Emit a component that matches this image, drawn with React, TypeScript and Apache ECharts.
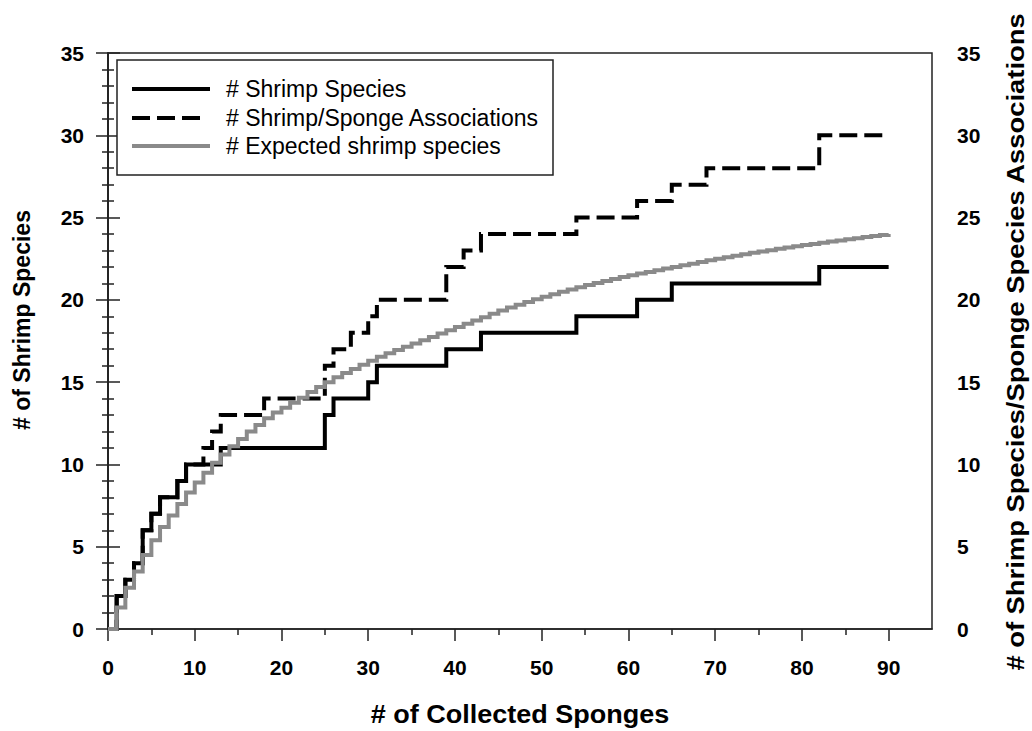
import React, { useEffect, useRef } from "react";
import * as echarts from "echarts";

// # Shrimp Species (step changes: collected sponges -> cumulative count)
const shrimpX = [0, 1, 2, 3, 4, 5, 6, 8, 9, 13, 25, 26, 30, 31, 39, 43, 54, 61, 65, 82, 90];
const shrimpY = [0, 2, 3, 4, 6, 7, 8, 9, 10, 11, 13, 14, 15, 16, 17, 18, 19, 20, 21, 22, 22];

// # Shrimp/Sponge Associations
const assocX = [0, 1, 2, 3, 4, 5, 6, 8, 9, 11, 12, 13, 18, 25, 26, 28, 30, 31, 39, 41, 43, 54, 61, 65, 69, 82, 90];
const assocY = [0, 2, 3, 4, 6, 7, 8, 9, 10, 11, 12, 13, 14, 16, 17, 18, 19, 20, 22, 23, 24, 25, 26, 27, 28, 30, 30];

// # Expected shrimp species, one value per sponge count 0..90
const expectedY = [
  0, 1.3, 2.5, 3.5, 4.5, 5.4, 6.2, 6.9, 7.6, 8.3,
  8.9, 9.5, 10.1, 10.6, 11.1, 11.55, 12.0, 12.4, 12.8, 13.15,
  13.45, 13.75, 14.05, 14.4, 14.7, 15.0, 15.3, 15.55, 15.8, 16.05,
  16.3, 16.55, 16.75, 16.95, 17.15, 17.35, 17.55, 17.75, 17.95, 18.15,
  18.35, 18.55, 18.75, 18.95, 19.15, 19.35, 19.53, 19.7, 19.87, 20.03,
  20.19, 20.34, 20.49, 20.63, 20.77, 20.9, 21.03, 21.15, 21.27, 21.39,
  21.5, 21.6, 21.7, 21.8, 21.9, 22.0, 22.1, 22.2, 22.3, 22.4,
  22.5, 22.59, 22.68, 22.77, 22.86, 22.94, 23.02, 23.1, 23.18, 23.26,
  23.33, 23.4, 23.47, 23.54, 23.61, 23.68, 23.75, 23.82, 23.88, 23.94,
  24.0,
];

const xMajorTicks = [0, 10, 20, 30, 40, 50, 60, 70, 80, 90];
const xMinorTicks = [5, 15, 25, 35, 45, 55, 65, 75, 85];

const seriesNames = ["# Shrimp Species", "# Shrimp/Sponge Associations", "# Expected shrimp species"];
const xTitle = "# of Collected Sponges";
const yLeftTitle = "# of Shrimp Species";
const yRightTitle = "# of Shrimp Species/Sponge Species Associations";

const FONT = "Arial, 'Liberation Sans', Helvetica, sans-serif";
const AXIS_COLOR = "#222";
const GREY = "#8a8a8a";
const DASH = [18, 7];

function yAxisCfg(position: "left" | "right", margin: number) {
  return {
    type: "value",
    position,
    min: 0,
    max: 35,
    interval: 5,
    axisLine: { show: true, lineStyle: { color: AXIS_COLOR, width: 1.5 } },
    axisTick: { show: true, inside: false, length: 12, lineStyle: { color: AXIS_COLOR, width: 1.5 } },
    minorTick: { show: true, splitNumber: 5, length: 6, lineStyle: { color: AXIS_COLOR, width: 1.5 } },
    splitLine: { show: false },
    minorSplitLine: { show: false },
    axisLabel: {
      margin,
      color: "#000",
      fontFamily: FONT,
      fontWeight: "bold",
      fontSize: 21,
    },
  };
}

export default function App() {
  const ref = useRef<HTMLDivElement>(null);

  useEffect(() => {
    if (!ref.current) return;
    const chart = echarts.init(ref.current, null, { renderer: "svg" });

    const shrimpData = shrimpX.map((x, i) => [x, shrimpY[i]]);
    const assocData = assocX.map((x, i) => [x, assocY[i]]);
    const expectedData = expectedY.map((y, i) => [i, y]);

    const legendRows = [89, 118, 146];

    const option: any = {
      animation: false,
      backgroundColor: "#fff",
      grid: {
        left: 108,
        top: 53,
        right: 100,
        bottom: 102,
        containLabel: false,
        outerBoundsMode: "none",
        show: true,
        borderColor: AXIS_COLOR,
        borderWidth: 1.5,
        backgroundColor: "transparent",
      },
      xAxis: [
        {
          type: "value",
          position: "bottom",
          min: 0,
          max: 95,
          interval: 10,
          axisLine: { show: true, onZero: false, lineStyle: { color: AXIS_COLOR, width: 1.5 } },
          axisTick: {
            show: true,
            length: 12,
            customValues: xMajorTicks,
            lineStyle: { color: AXIS_COLOR, width: 1.5 },
          },
          splitLine: { show: false },
          axisLabel: {
            customValues: xMajorTicks,
            margin: 28,
            color: "#000",
            fontFamily: FONT,
            fontWeight: "bold",
            fontSize: 21,
          },
        },
        {
          type: "value",
          position: "bottom",
          min: 0,
          max: 95,
          interval: 5,
          axisLine: { show: false, onZero: false },
          axisTick: {
            show: true,
            length: 6,
            customValues: xMinorTicks,
            lineStyle: { color: AXIS_COLOR, width: 1.5 },
          },
          splitLine: { show: false },
          axisLabel: { show: false },
        },
      ],
      yAxis: [yAxisCfg("left", 24), yAxisCfg("right", 25)],
      series: [
        {
          name: seriesNames[0],
          type: "line",
          xAxisIndex: 0,
          yAxisIndex: 0,
          step: "end",
          symbol: "none",
          showSymbol: false,
          data: shrimpData,
          lineStyle: { color: "#000", width: 4, join: "miter", cap: "butt" },
          z: 3,
        },
        {
          name: seriesNames[1],
          type: "line",
          xAxisIndex: 0,
          yAxisIndex: 1,
          step: "end",
          symbol: "none",
          showSymbol: false,
          data: assocData,
          lineStyle: { color: "#000", width: 4, type: DASH, join: "miter", cap: "butt" },
          z: 3,
        },
        {
          name: seriesNames[2],
          type: "line",
          xAxisIndex: 0,
          yAxisIndex: 0,
          step: "end",
          symbol: "none",
          showSymbol: false,
          data: expectedData,
          lineStyle: { color: GREY, width: 4, join: "miter", cap: "butt" },
          z: 4,
        },
      ],
      graphic: [
        {
          type: "rect",
          shape: { x: 117, y: 60, width: 436, height: 115 },
          style: { fill: "#fff", stroke: AXIS_COLOR, lineWidth: 1.5 },
          z: 10,
        },
        {
          type: "line",
          shape: { x1: 132, y1: legendRows[0], x2: 210, y2: legendRows[0] },
          style: { stroke: "#000", lineWidth: 4 },
          z: 11,
        },
        {
          type: "line",
          shape: { x1: 132, y1: legendRows[1], x2: 200, y2: legendRows[1] },
          style: { stroke: "#000", lineWidth: 4, lineDash: DASH },
          z: 11,
        },
        {
          type: "line",
          shape: { x1: 132, y1: legendRows[2], x2: 210, y2: legendRows[2] },
          style: { stroke: GREY, lineWidth: 4 },
          z: 11,
        },
        ...seriesNames.map((name, i) => ({
          type: "text",
          x: 226,
          y: legendRows[i],
          z: 11,
          style: {
            text: name,
            fill: "#000",
            fontFamily: FONT,
            fontSize: 23,
            textAlign: "left",
            align: "left",
            textVerticalAlign: "middle",
            verticalAlign: "middle",
          },
        })),
        {
          type: "text",
          x: 520,
          y: 714,
          scaleX: 1.08,
          style: {
            text: xTitle,
            fill: "#000",
            fontFamily: FONT,
            fontWeight: "bold",
            fontSize: 25,
            textAlign: "center",
            align: "center",
            textVerticalAlign: "middle",
            verticalAlign: "middle",
          },
        },
        {
          type: "text",
          x: 22,
          y: 320,
          rotation: Math.PI / 2,
          style: {
            text: yLeftTitle,
            fill: "#000",
            fontFamily: FONT,
            fontWeight: "bold",
            fontSize: 23,
            textAlign: "center",
            align: "center",
            textVerticalAlign: "middle",
            verticalAlign: "middle",
          },
        },
        {
          type: "text",
          x: 1016,
          y: 342,
          rotation: Math.PI / 2,
          scaleX: 1.19,
          style: {
            text: yRightTitle,
            fill: "#000",
            fontFamily: FONT,
            fontWeight: "bold",
            fontSize: 23,
            textAlign: "center",
            align: "center",
            textVerticalAlign: "middle",
            verticalAlign: "middle",
          },
        },
      ],
    };

    chart.setOption(option);
    return () => {
      chart.dispose();
    };
  }, []);

  return (
    <div
      ref={ref}
      style={{ position: "absolute", left: 0, top: 0, width: 1032, height: 731, background: "#fff" }}
    />
  );
}
